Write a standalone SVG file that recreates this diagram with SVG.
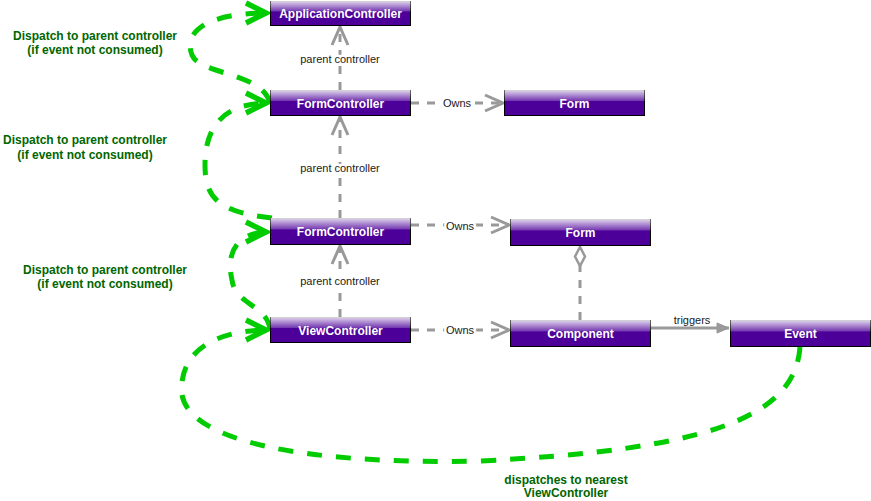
<svg xmlns="http://www.w3.org/2000/svg" width="871" height="501" viewBox="0 0 871 501">
<defs>
<linearGradient id="glass" x1="0" y1="0" x2="0" y2="1">
<stop offset="0" stop-color="#ffffff" stop-opacity="0.85"/>
<stop offset="1" stop-color="#ffffff" stop-opacity="0.2"/>
</linearGradient>
<marker id="gOpen" markerUnits="userSpaceOnUse" viewBox="-24 -14 28 28" markerWidth="28" markerHeight="28" refX="0" refY="0" orient="auto">
<path d="M-18,-8 L0,0 L-18,8" fill="none" stroke="#999999" stroke-width="3"/>
</marker>
<marker id="gTri" markerUnits="userSpaceOnUse" viewBox="-14 -8 16 16" markerWidth="16" markerHeight="16" refX="0" refY="0" orient="auto">
<path d="M-12,-5 L0,0 L-12,5 Z" fill="#999999" stroke="#999999" stroke-width="1"/>
</marker>
<marker id="gDia" markerUnits="userSpaceOnUse" viewBox="-22 -8 24 16" markerWidth="24" markerHeight="16" refX="0" refY="0" orient="auto">
<path d="M-19,0 L-9.5,-5 L0,0 L-9.5,5 Z" fill="#ffffff" stroke="#999999" stroke-width="2.5"/>
</marker>
<marker id="grArrow" markerUnits="userSpaceOnUse" viewBox="-34 -18 38 36" markerWidth="38" markerHeight="36" refX="0" refY="0" orient="auto">
<path d="M-23,-10 L-3,0 L-23,10" fill="none" stroke="#00cc00" stroke-width="5.5" stroke-linejoin="miter"/>
</marker>
</defs>
<style>
.node rect.base{fill:#4c0099;stroke:#000000;stroke-width:1}
.node rect.glass{fill:url(#glass);stroke:none}
.node text{font-family:"Liberation Sans",Arial,sans-serif;font-size:12px;font-weight:bold;fill:#ffffff;text-anchor:middle}
.gdash{fill:none;stroke:#999999;stroke-width:3;stroke-dasharray:8 8}
.gsolid{fill:none;stroke:#999999;stroke-width:3}
.green{fill:none;stroke:#00cc00;stroke-width:5;stroke-dasharray:15 14}
.lbl{font-family:"Liberation Sans",Arial,sans-serif;font-size:11px;fill:#1a1a1a;text-anchor:middle;paint-order:stroke;stroke:#ffffff;stroke-width:5px;stroke-linejoin:round}
.glbl{font-family:"Liberation Sans",Arial,sans-serif;font-size:12px;font-weight:bold;fill:#006600;text-anchor:middle}
</style>

<g id="connectors">
<path class="gdash" d="M340,90 L340,27" marker-end="url(#gOpen)"/>
<path class="gdash" d="M340,218 L340,117" marker-end="url(#gOpen)"/>
<path class="gdash" d="M340,317 L340,246" marker-end="url(#gOpen)"/>
<path class="gdash" d="M411,103 L503,103" marker-end="url(#gOpen)"/>
<path class="gdash" d="M411,225 L509,225" marker-end="url(#gOpen)"/>
<path class="gdash" d="M411,330 L509,330" marker-end="url(#gOpen)"/>
<path class="gdash" d="M580,320 L580,247" marker-end="url(#gDia)"/>
<path class="gsolid" d="M651,328 L729,328" marker-end="url(#gTri)"/>
<text class="lbl" x="340" y="63">parent controller</text>
<text class="lbl" x="340" y="172">parent controller</text>
<text class="lbl" x="340" y="285">parent controller</text>
<text class="lbl" x="457" y="107">Owns</text>
<text class="lbl" x="460" y="230">Owns</text>
<text class="lbl" x="460" y="334">Owns</text>
<text class="lbl" x="692" y="324" style="stroke:none">triggers</text>

<path class="green" d="M270,103 C262,72 200,75 192,55 C184,35 200,13 269,13" marker-end="url(#grArrow)"/>
<path class="green" d="M272,218 C215,212 205,195 205,165 C205,125 225,103 269,103" marker-end="url(#grArrow)"/>
<path class="green" d="M270,330 C268,305 235,305 232,280 C226,255 235,232 269,232" marker-end="url(#grArrow)"/>
<path class="green" d="M800,347 C795,420 700,450 480,461 C300,465 190,440 182,395 C178,355 210,330 269,330" marker-end="url(#grArrow)"/>
<text class="glbl" x="95" y="40">Dispatch to parent controller</text>
<text class="glbl" x="95" y="54">(if event not consumed)</text>
<text class="glbl" x="85" y="144">Dispatch to parent controller</text>
<text class="glbl" x="85" y="159">(if event not consumed)</text>
<text class="glbl" x="105" y="274">Dispatch to parent controller</text>
<text class="glbl" x="105" y="288">(if event not consumed)</text>
<text class="glbl" x="566" y="484">dispatches to nearest</text>
<text class="glbl" x="566" y="497">ViewController</text>
</g>

<g id="applicationController" class="node">
<rect class="base" x="270.5" y="1.5" width="140" height="24"/>
<rect class="glass" x="270.5" y="1" width="140" height="10.5"/>
<text x="340.5" y="17.5">ApplicationController</text>
</g>
<g id="formController1" class="node">
<rect class="base" x="270.5" y="90.5" width="140" height="25"/>
<rect class="glass" x="270.5" y="90" width="140" height="11"/>
<text x="340.5" y="107.5">FormController</text>
</g>
<g id="form1" class="node">
<rect class="base" x="504.5" y="90.5" width="140" height="25"/>
<rect class="glass" x="504.5" y="90" width="140" height="11"/>
<text x="574.5" y="107.5">Form</text>
</g>
<g id="formController2" class="node">
<rect class="base" x="270.5" y="218.5" width="140" height="26"/>
<rect class="glass" x="270.5" y="218" width="140" height="11.5"/>
<text x="340.5" y="236">FormController</text>
</g>
<g id="form2" class="node">
<rect class="base" x="510.5" y="219.5" width="140" height="26"/>
<rect class="glass" x="510.5" y="219" width="140" height="11.5"/>
<text x="580.5" y="236.5">Form</text>
</g>
<g id="viewController" class="node">
<rect class="base" x="270.5" y="317.5" width="140" height="25"/>
<rect class="glass" x="270.5" y="317" width="140" height="11"/>
<text x="340.5" y="334.5">ViewController</text>
</g>
<g id="component" class="node">
<rect class="base" x="510.5" y="320.5" width="140" height="26"/>
<rect class="glass" x="510.5" y="320" width="140" height="11.5"/>
<text x="580.5" y="337.5">Component</text>
</g>
<g id="event" class="node">
<rect class="base" x="730.5" y="320.5" width="140" height="26"/>
<rect class="glass" x="730.5" y="320" width="140" height="11.5"/>
<text x="800.5" y="337.5">Event</text>
</g>
</svg>
